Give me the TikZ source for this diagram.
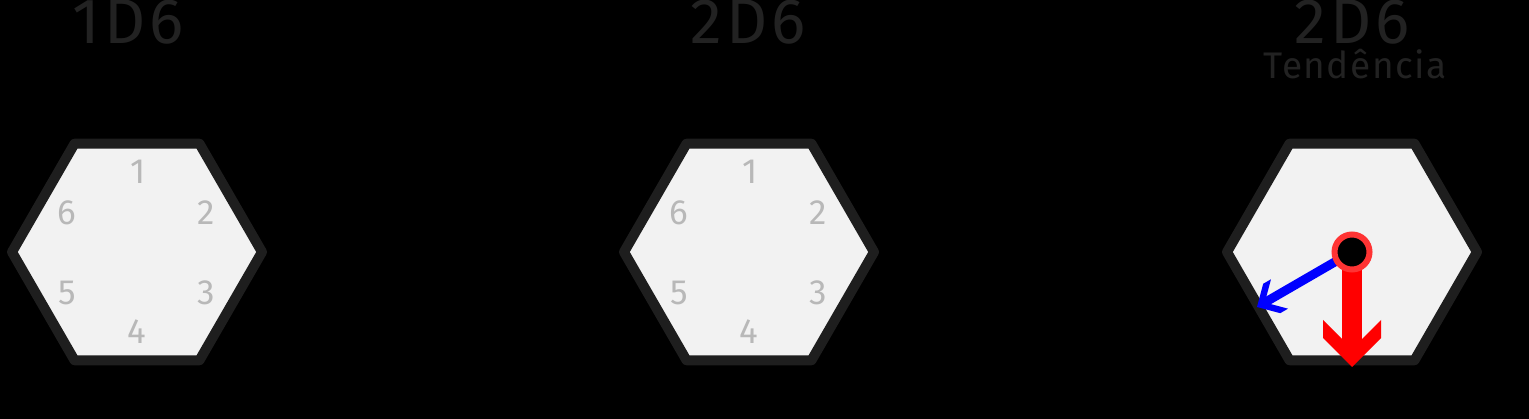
\documentclass[tikz,border=0pt]{standalone}
\usepackage{fontspec}
\setmainfont{Fira Sans}
\newfontfamily\titlefont[LetterSpace=6]{Fira Sans}
\newfontfamily\subfont[LetterSpace=4]{Fira Sans}
\usetikzlibrary{arrows.meta}
\pgfdeclarelayer{fg}
\pgfsetlayers{main,fg}
\definecolor{hexfill}{HTML}{F2F2F2}
\definecolor{hexline}{HTML}{1E1E1E}
\definecolor{digitgray}{HTML}{B8B8B8}
\definecolor{titlegray}{HTML}{222222}
\definecolor{ringred}{HTML}{FF3333}
\pgfdeclarearrow{
  name = Chev,
  parameters = {\the\pgfarrowlength,\the\pgfarrowwidth},
  setup code = {
    \pgfarrowssettipend{0pt}
    \pgfmathsetlengthmacro\chevle{-\pgfarrowlength+0.5*\pgfarrowwidth}
    \pgfarrowssetlineend{\chevle}
    \pgfarrowsupperhullpoint{0pt}{0pt}
    \pgfarrowsupperhullpoint{-\pgfarrowlength}{.5\pgfarrowwidth}
    \pgfarrowssavethe\pgfarrowlength
    \pgfarrowssavethe\pgfarrowwidth
  },
  drawing code = {
    \pgfmathsetlengthmacro\chevle{-\pgfarrowlength+0.5*\pgfarrowwidth}
    \pgfpathmoveto{\pgfqpoint{0pt}{0pt}}
    \pgfpathlineto{\pgfqpoint{-.5\pgfarrowwidth}{.5\pgfarrowwidth}}
    \pgfpathlineto{\pgfqpoint{-\pgfarrowlength}{.5\pgfarrowwidth}}
    \pgfpathlineto{\pgfqpoint{\chevle}{0pt}}
    \pgfpathlineto{\pgfqpoint{-\pgfarrowlength}{-.5\pgfarrowwidth}}
    \pgfpathlineto{\pgfqpoint{-.5\pgfarrowwidth}{-.5\pgfarrowwidth}}
    \pgfpathclose
    \pgfusepathqfill
  },
  defaults = {length = 47pt, width = 58pt}
}
\begin{document}
\begin{tikzpicture}[x=1pt,y=-1pt,
  hexagon/.style={draw=hexline, fill=hexfill, line width=10pt, line join=round},
  digit/.style={text=digitgray, font=\fontsize{35}{35}\selectfont, inner sep=0pt, anchor=center},
  title/.style={text=titlegray, font=\titlefont\fontsize{64}{64}\selectfont, inner sep=0pt, anchor=base, text depth=0pt},
  subtitle/.style={text=titlegray, font=\subfont\fontsize{37}{37}\selectfont, inner sep=0pt, anchor=base, text height=26pt, text depth=0pt},
  dot/.style={circle, draw=ringred, fill=black, line width=6pt, minimum size=35pt, inner sep=0pt},
  redarrow/.style={draw=red, line width=20pt, -{Chev[length=47pt,width=58pt]}},
  bluearrow/.style={draw=blue, line width=9pt, -{Chev[length=26pt,width=34pt]}}
]
\fill[black] (0,0) rectangle (1529,419);
\useasboundingbox (0,0) rectangle (1529,419);

% titles
\node[title] (tA) at (128,44) {1D6};
\node[title] (tB) at (748,44) {2D6};
\node[title] (tC) at (1352,44) {2D6};
\node[subtitle] (tend) at (1355,79) {Tendência};

% hexagons
\coordinate (hexA) at (137,252);
\coordinate (hexB) at (749,252);
\coordinate (hexC) at (1352,252);
\foreach \h in {hexA,hexB,hexC}{
  \draw[hexagon, shift={(\h)}] (0:125) -- (60:125) -- (120:125) -- (180:125) -- (240:125) -- (300:125) -- cycle;
}

% digits
\foreach \h/\cx in {hexA/137,hexB/749}{
  \node[digit] (\h-d1) at (\cx+1,172) {1};
  \node[digit] (\h-d2) at (\cx+69,213) {2};
  \node[digit] (\h-d3) at (\cx+69,293) {3};
  \node[digit] (\h-d4) at (\cx,332) {4};
  \node[digit] (\h-d5) at (\cx-70,293) {5};
  \node[digit] (\h-d6) at (\cx-70,213) {6};
}

% tendency arrows
\coordinate (redtip) at (1352,367);
\coordinate (bluetip) at (1257,307);
\begin{pgfonlayer}{fg}
\node[dot] (pivot) at (1352,252) {};
\end{pgfonlayer}
\draw[redarrow] (pivot.center) -- (redtip);
\draw[bluearrow] (pivot.center) -- (bluetip);
\end{tikzpicture}
\end{document}
